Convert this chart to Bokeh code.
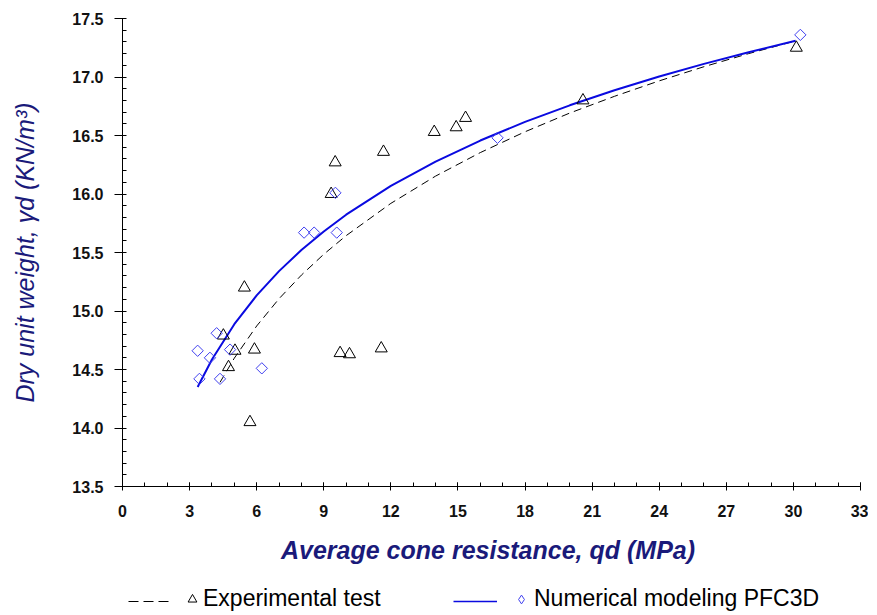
import math
from bokeh.plotting import figure
from bokeh.layouts import column
from bokeh.models import (SingleIntervalTicker, PrintfTickFormatter, Legend, LegendItem, Range1d)
from bokeh.embed import file_html
from bokeh.resources import INLINE

# ---- data ----
exp_qd = [5.45, 4.51, 5.03, 5.90, 4.74, 5.70, 9.73, 10.15, 11.57,
          9.51, 9.33, 11.67, 13.94, 14.92, 15.34, 20.59, 30.13]
exp_gd = [15.20, 14.79, 14.66, 14.67, 14.52, 14.05, 14.64, 14.63, 14.68,
          16.27, 16.00, 16.36, 16.53, 16.57, 16.65, 16.80, 17.25]

num_qd = [3.36, 4.21, 3.91, 4.81, 3.44, 4.36, 6.23, 9.52, 8.12, 8.57, 9.58, 16.77, 30.31]
num_gd = [14.66, 14.81, 14.60, 14.67, 14.42, 14.42, 14.51, 16.01, 15.67, 15.67, 15.67, 16.48, 17.36]

# trend curves
exp_fit_qd = [4.36, 5, 6, 7, 8, 9, 10, 12, 14, 16, 18, 20, 22, 24, 26, 28, 30.1]
exp_fit_gd = [14.390, 14.597, 14.872, 15.105, 15.307, 15.485, 15.644, 15.920, 16.153,
              16.354, 16.532, 16.692, 16.835, 16.967, 17.088, 17.200, 17.309]

num_fit_qd = [3.36, 4, 5, 6, 7, 8, 9, 10, 12, 14, 16, 18, 20, 22, 24, 26, 28, 30.1]
num_fit_gd = [14.350, 14.585, 14.887, 15.133, 15.341, 15.521, 15.680, 15.823, 16.069,
              16.277, 16.457, 16.616, 16.758, 16.887, 17.004, 17.112, 17.212, 17.310]

x_title = "Average cone resistance,  qd (MPa)"
y_title = "Dry unit weight, γd (KN/m³)"
label_exp = "Experimental test"
label_num = "Numerical modeling PFC3D"

TITLE_COLOR = "#1a1a7a"
BLUE_LINE = "#0a0ae0"
BLUE_MARK = "#4040f0"
FONT = "Liberation Sans"

p = figure(width=868, height=575, output_backend="svg", toolbar_location=None,
           x_range=Range1d(0, 33), y_range=Range1d(13.5, 17.5),
           min_border_left=122, min_border_right=8, min_border_top=18, min_border_bottom=89)
p.outline_line_color = None
p.xgrid.visible = False
p.ygrid.visible = False

# axes
p.xaxis.ticker = SingleIntervalTicker(interval=3, num_minor_ticks=3)
p.yaxis.ticker = SingleIntervalTicker(interval=0.5, num_minor_ticks=5)
p.yaxis.formatter = PrintfTickFormatter(format="%.1f")
for ax in (p.xaxis, p.yaxis):
    ax.axis_line_color = "black"
    ax.major_tick_line_color = "black"
    ax.minor_tick_line_color = "black"
    ax.major_label_text_font = FONT
    ax.major_label_text_font_size = "16px"
    ax.major_label_text_font_style = "bold"
    ax.major_label_text_color = "#111111"
    ax.axis_label_text_font = FONT
    ax.axis_label_text_color = TITLE_COLOR

p.xaxis.axis_label = x_title
p.yaxis.axis_label = y_title
p.xaxis.axis_label_text_font_size = "25px"
p.xaxis.axis_label_text_font_style = "bold italic"
p.yaxis.axis_label_text_font_size = "25px"
p.yaxis.axis_label_text_font_style = "italic"

p.yaxis.major_tick_out = 8
p.yaxis.major_tick_in = 3
p.yaxis.minor_tick_out = 0
p.yaxis.minor_tick_in = 4
p.yaxis.major_label_standoff = 11
p.yaxis.axis_label_standoff = 30

p.xaxis.major_tick_out = 4
p.xaxis.major_tick_in = 4
p.xaxis.minor_tick_out = 0
p.xaxis.minor_tick_in = 4
p.xaxis.major_label_standoff = 14
p.xaxis.axis_label_standoff = 16

# curves
p.line(exp_fit_qd, exp_fit_gd, line_color="black", line_width=1, line_dash="8 5")
p.line(num_fit_qd, num_fit_gd, line_color=BLUE_LINE, line_width=2)

# points
p.scatter(exp_qd, exp_gd, marker="triangle", size=12, fill_color=None,
          line_color="black", line_width=1)
p.scatter(num_qd, num_gd, marker="square", angle=math.pi / 4, size=8,
          fill_color=None, line_color=BLUE_MARK, line_width=1)

# legend strip under the chart
q = figure(width=868, height=37, output_backend="svg", toolbar_location=None,
           x_range=Range1d(0, 1), y_range=Range1d(0, 1),
           x_axis_location=None, y_axis_location=None,
           min_border_left=0, min_border_right=0, min_border_top=0, min_border_bottom=0)
q.outline_line_color = None
q.xgrid.visible = False
q.ygrid.visible = False
l_dash = q.line([-5, -4], [-5, -5], line_color="black", line_width=1, line_dash="10 5")
l_tri = q.scatter([-5], [-5], marker="triangle", size=9, fill_color=None,
                  line_color="black", line_width=1)
l_blue = q.line([-5, -4], [-5, -5], line_color=BLUE_LINE, line_width=1.5)
l_dia = q.scatter([-5], [-5], marker="diamond", size=9, fill_color=None,
                  line_color=BLUE_MARK, line_width=1)


def make_legend(label, renderer, x, gw, standoff):
    lg = Legend(items=[LegendItem(label=label, renderers=[renderer])],
                location=(x, 0), orientation="horizontal",
                glyph_width=gw, glyph_height=22, label_height=22,
                label_standoff=standoff, padding=0, margin=0, spacing=0,
                border_line_color=None, background_fill_alpha=0,
                label_text_font=FONT, label_text_font_size="23px",
                label_text_color="black")
    q.add_layout(lg, "center")


make_legend("", l_dash, 6, 45, 0)
make_legend(label_exp, l_tri, 59, 22, 0)
make_legend("", l_blue, 331, 44, 0)
make_legend(label_num, l_dia, 388, 22, 2)

open("out.html", "w").write(file_html(column(p, q), INLINE))
